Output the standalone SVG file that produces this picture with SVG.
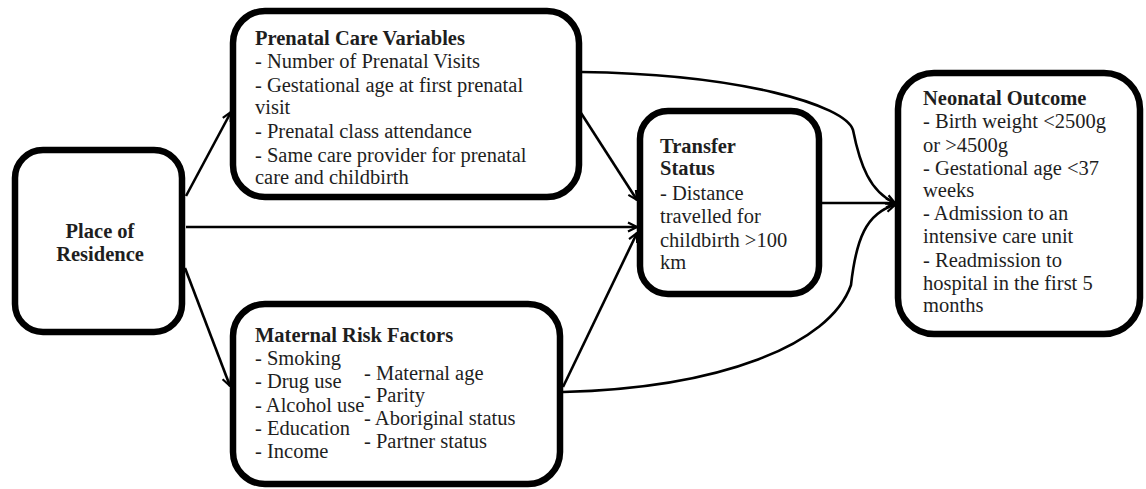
<svg xmlns="http://www.w3.org/2000/svg" width="1146" height="489" viewBox="0 0 1146 489">
  <style>
    .box { fill: #ffffff; stroke: #000000; stroke-width: 6.5; }
    .t { font-family: "Liberation Serif", "Times New Roman", serif; font-size: 20.5px; fill: #1e1e1e; }
    .b { font-weight: bold; }
    .edge { fill: none; stroke: #000000; stroke-width: 2.6; }
  </style>
  <defs>
    <marker id="arrow" viewBox="0 0 12 12" refX="11" refY="6" markerWidth="12" markerHeight="12" markerUnits="userSpaceOnUse" orient="auto">
      <path d="M2,1.5 L11,6 L2,10.5" fill="none" stroke="#000000" stroke-width="2.2" stroke-linejoin="miter"/>
    </marker>
  </defs>

  <rect width="1146" height="489" fill="#ffffff"/>

  <!-- connectors -->
  <g id="connectors">
    <path class="edge" d="M186,196 L231,112" marker-end="url(#arrow)"/>
    <path class="edge" d="M185,268 L230,386" marker-end="url(#arrow)"/>
    <path class="edge" d="M186,227 L637,227" marker-end="url(#arrow)"/>
    <path class="edge" d="M581,113 L637,200" marker-end="url(#arrow)"/>
    <path class="edge" d="M563,387 L637,233" marker-end="url(#arrow)"/>
    <path class="edge" d="M822,203 L895,203" marker-end="url(#arrow)"/>
    <path class="edge" d="M581,72 C740,74 845,105 853,130 C860,165 870,192 895,203" marker-end="url(#arrow)"/>
    <path class="edge" d="M563,392 C720,388 830,345 851,285 C856,240 866,213 895,205" marker-end="url(#arrow)"/>
  </g>

  <!-- Place of Residence -->
  <g id="node-residence">
    <rect class="box" x="15" y="150" width="167" height="182" rx="28" ry="28"/>
    <text class="t b" x="100" y="238" text-anchor="middle">Place of</text>
    <text class="t b" x="100" y="261" text-anchor="middle">Residence</text>
  </g>

  <!-- Prenatal Care Variables -->
  <g id="node-prenatal">
    <rect class="box" x="233" y="11" width="346" height="186" rx="32" ry="32"/>
    <text class="t b" x="255" y="45">Prenatal Care Variables</text>
    <text class="t" x="255" y="68">- Number of Prenatal Visits</text>
    <text class="t" x="255" y="92">- Gestational age at first prenatal</text>
    <text class="t" x="255" y="114">visit</text>
    <text class="t" x="255" y="138">- Prenatal class attendance</text>
    <text class="t" x="255" y="162">- Same care provider for prenatal</text>
    <text class="t" x="255" y="184">care and childbirth</text>
  </g>

  <!-- Maternal Risk Factors -->
  <g id="node-maternal">
    <rect class="box" x="233" y="304" width="327" height="180" rx="32" ry="32"/>
    <text class="t b" x="255" y="342">Maternal Risk Factors</text>
    <text class="t" x="255" y="365">- Smoking</text>
    <text class="t" x="255" y="388">- Drug use</text>
    <text class="t" x="255" y="412">- Alcohol use</text>
    <text class="t" x="255" y="435">- Education</text>
    <text class="t" x="255" y="458">- Income</text>
    <text class="t" x="364" y="380">- Maternal age</text>
    <text class="t" x="364" y="402">- Parity</text>
    <text class="t" x="364" y="425">- Aboriginal status</text>
    <text class="t" x="364" y="448">- Partner status</text>
  </g>

  <!-- Transfer Status -->
  <g id="node-transfer">
    <rect class="box" x="640" y="111" width="179" height="183" rx="28" ry="28"/>
    <text class="t b" x="660" y="153">Transfer</text>
    <text class="t b" x="660" y="175">Status</text>
    <text class="t" x="660" y="200">- Distance</text>
    <text class="t" x="660" y="223">travelled for</text>
    <text class="t" x="660" y="247">childbirth &gt;100</text>
    <text class="t" x="660" y="269">km</text>
  </g>

  <!-- Neonatal Outcome -->
  <g id="node-neonatal">
    <rect class="box" x="898" y="73" width="242" height="261" rx="36" ry="36"/>
    <text class="t b" x="923" y="105">Neonatal Outcome</text>
    <text class="t" x="923" y="128">- Birth weight &lt;2500g</text>
    <text class="t" x="923" y="152">or &gt;4500g</text>
    <text class="t" x="923" y="175">- Gestational age &lt;37</text>
    <text class="t" x="923" y="197">weeks</text>
    <text class="t" x="923" y="220">- Admission to an</text>
    <text class="t" x="923" y="243">intensive care unit</text>
    <text class="t" x="923" y="267">- Readmission to</text>
    <text class="t" x="923" y="290">hospital in the first 5</text>
    <text class="t" x="923" y="312">months</text>
  </g>
</svg>
